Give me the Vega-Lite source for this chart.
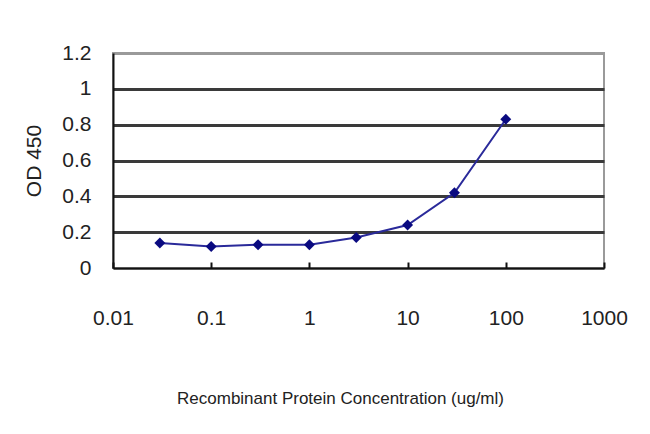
{
  "$schema": "https://vega.github.io/schema/vega-lite/v6.json",
  "width": 491,
  "height": 215,
  "autosize": "none",
  "padding": {"left": 113, "top": 53, "right": 46, "bottom": 166},
  "background": "white",
  "config": {
    "view": {"stroke": "#9a9a9a", "strokeWidth": 2},
    "font": "Liberation Sans"
  },
  "data": {
    "values": [
      {"conc": 0.03, "od": 0.14},
      {"conc": 0.1, "od": 0.12},
      {"conc": 0.3, "od": 0.13},
      {"conc": 1, "od": 0.13},
      {"conc": 3, "od": 0.17},
      {"conc": 10, "od": 0.24},
      {"conc": 30, "od": 0.42},
      {"conc": 100, "od": 0.83}
    ]
  },
  "encoding": {
    "x": {
      "field": "conc",
      "type": "quantitative",
      "scale": {"type": "log", "domain": [0.01, 1000], "nice": false},
      "axis": {
        "title": "Recombinant Protein Concentration (ug/ml)",
        "values": [0.01, 0.1, 1, 10, 100, 1000],
        "labelExpr": "datum.value < 1 ? format(datum.value, '~g') : format(datum.value, 'd')",
        "grid": false,
        "domainColor": "#111111",
        "domainWidth": 2,
        "tickColor": "#111111",
        "tickWidth": 2,
        "tickSize": -6,
        "labelPadding": 45,
        "labelFontSize": 21,
        "labelColor": "#222222",
        "labelFlush": false,
        "titleFontSize": 17,
        "titleFontWeight": "normal",
        "titleColor": "#222222",
        "titlePadding": 62,
        "titleX": 227
      }
    },
    "y": {
      "field": "od",
      "type": "quantitative",
      "scale": {"domain": [0, 1.2], "nice": false},
      "axis": {
        "title": "OD 450",
        "values": [0, 0.2, 0.4, 0.6, 0.8, 1, 1.2],
        "format": ".1~f",
        "grid": true,
        "gridColor": {"condition": {"test": "datum.value >= 1.2 || datum.value == 0", "value": "#9a9a9a"}, "value": "#3a3a3a"},
        "gridWidth": 3,
        "gridOpacity": 1,
        "ticks": false,
        "domainColor": "#111111",
        "domainWidth": 2,
        "labelPadding": 22,
        "labelFontSize": 21,
        "labelColor": "#222222",
        "titleFontSize": 21,
        "titleFontWeight": "normal",
        "titleColor": "#222222",
        "titlePadding": 17
      }
    }
  },
  "layer": [
    {"mark": {"type": "line", "color": "#2a2a9a", "strokeWidth": 2}},
    {"mark": {"type": "point", "shape": "diamond", "filled": true, "size": 120, "color": "#0a0a80", "opacity": 1}}
  ]
}
